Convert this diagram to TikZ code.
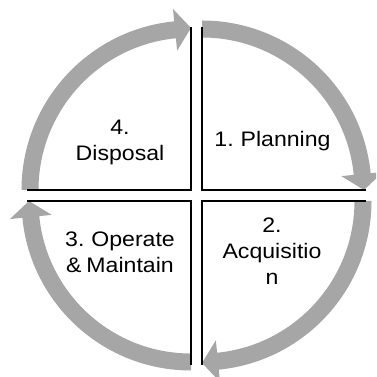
\documentclass[tikz,border=0pt]{standalone}
\usepackage{fontspec}
\setmainfont[FakeStretch=1.1,WordSpace=0.75]{Liberation Sans}
\definecolor{arrowgray}{RGB}{166,166,166}
\newcommand\cycarrow[3]{%
  \fill[arrowgray] ([shift={(#1)}]#2:169.5) arc[start angle=#2, end angle=#3+5.69, radius=169.5]
    -- ([shift={(#1)}]#3+5.69:182) -- ([shift={(#1)}]#3:162) -- ([shift={(#1)}]#3+5.69:140)
    -- ([shift={(#1)}]#3+5.69:152.5) arc[start angle=#3+5.69, end angle=#2, radius=152.5] -- cycle;}
\begin{document}
\begin{tikzpicture}[x=1pt,y=1pt,
  edge/.style={draw=black,line width=1.5pt},
  label/.style={inner sep=0pt,anchor=north,align=center,font=\fontsize{21}{26}\selectfont}]
\useasboundingbox (0,0) rectangle (376,377);
\clip (0,0) rectangle (376,377);
% quadrant corners
\coordinate (TL) at (191,187);
\coordinate (TR) at (202,187);
\coordinate (BL) at (191,176);
\coordinate (BR) at (202,176);
% arrows
\cycarrow{TL}{180}{90}
\cycarrow{TR}{90}{0}
\cycarrow{BR}{0}{-90}
\cycarrow{BL}{270}{180}
% sector edges
\coordinate (TLu) at ([shift={(TL)}]90:163);
\coordinate (TLl) at ([shift={(TL)}]180:164);
\coordinate (TRu) at ([shift={(TR)}]90:163);
\coordinate (TRr) at ([shift={(TR)}]0:164);
\coordinate (BLd) at ([shift={(BL)}]270:164);
\coordinate (BLl) at ([shift={(BL)}]180:164);
\coordinate (BRd) at ([shift={(BR)}]270:164);
\coordinate (BRr) at ([shift={(BR)}]0:164);
\draw[edge] (TLu) -- (TL) -- (TLl);
\draw[edge] (TRu) -- (TR) -- (TRr);
\draw[edge] (BLl) -- (BL) -- (BLd);
\draw[edge] (BRr) -- (BR) -- (BRd);
% labels
\node[label] (disposal) at (120,257) {4.\\Disposal};
\node[label] (planning) at (272.5,246) {1. Planning};
\node[label] (acquisition) at (272,159) {2.\\Acquisitio\\n};
\node[label] (operate) at (120,145) {3. Operate\\\& Maintain};
\end{tikzpicture}
\end{document}
